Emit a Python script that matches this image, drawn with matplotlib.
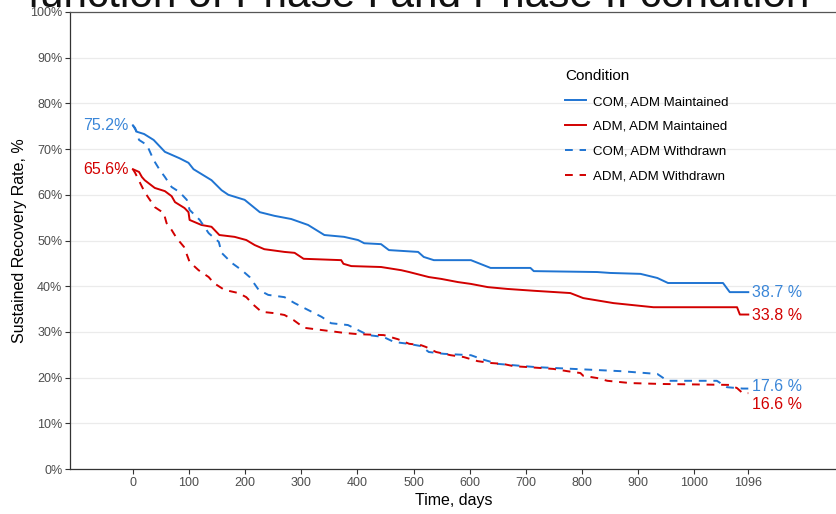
import matplotlib
matplotlib.use("Agg")
import matplotlib.pyplot as plt

plt.rcParams['font.family'] = ['Liberation Sans', 'DejaVu Sans']

BLUE = '#1f74d2'
RED = '#d20000'

# survival curves (day, %)
com_maint_days = [0, 7, 20, 37, 57, 83, 99, 108, 140, 158, 170, 199, 226, 252, 282, 312, 341,
                  376, 401, 412, 442, 456, 508, 518, 536, 602, 637, 708, 714, 827, 850, 904, 934,
                  953, 1051, 1063, 1096]
com_maint_pct = [75.2, 73.8, 73.3, 72.0, 69.4, 68.0, 67.0, 65.6, 63.2, 61.0, 60.0, 58.9, 56.2,
                 55.4, 54.7, 53.4, 51.2, 50.8, 50.1, 49.4, 49.2, 47.9, 47.5, 46.4, 45.7, 45.7,
                 44.0, 44.0, 43.3, 43.1, 42.9, 42.7, 41.8, 40.7, 40.7, 38.7, 38.7]

adm_maint_days = [0, 11, 16, 21, 39, 57, 69, 75, 92, 99, 101, 122, 140, 154, 181, 202, 217, 234,
                  270, 288, 304, 371, 375, 389, 442, 478, 492, 527, 549, 579, 602, 632, 667, 714,
                  779, 802, 856, 927, 1076, 1081, 1096]
adm_maint_pct = [65.6, 65.0, 63.9, 63.2, 61.5, 60.8, 59.7, 58.4, 57.1, 56.2, 54.5, 53.4, 53.0,
                 51.2, 50.8, 50.1, 49.0, 48.1, 47.5, 47.3, 46.0, 45.7, 44.9, 44.4, 44.2, 43.5,
                 43.1, 42.0, 41.6, 40.9, 40.5, 39.8, 39.4, 39.0, 38.5, 37.4, 36.3, 35.4, 35.4,
                 33.8, 33.8]

com_wd_days = [0, 4, 11, 25, 37, 48, 57, 69, 83, 96, 101, 119, 135, 153, 158, 176, 194, 208, 224,
               241, 270, 288, 312, 336, 353, 383, 401, 419, 446, 465, 490, 513, 527, 554, 602,
               625, 650, 717, 870, 934, 952, 1040, 1058, 1086, 1096]
com_wd_pct = [75.2, 74.6, 72.0, 70.9, 67.6, 65.4, 63.9, 61.7, 60.6, 58.9, 56.7, 54.5, 51.6, 49.7,
              47.3, 45.1, 43.5, 42.0, 39.2, 38.1, 37.6, 36.3, 34.8, 33.3, 31.9, 31.5, 30.4, 29.3,
              28.9, 27.8, 27.4, 26.9, 25.6, 25.2, 24.9, 23.9, 23.0, 22.3, 21.4, 20.8, 19.3, 19.3,
              17.9, 17.6, 17.6]

adm_wd_days = [0, 4, 12, 21, 28, 39, 55, 60, 69, 78, 91, 101, 117, 135, 144, 163, 188, 202, 215,
               229, 252, 270, 286, 305, 375, 401, 447, 472, 492, 513, 522, 540, 566, 589, 614,
               637, 659, 678, 703, 726, 749, 774, 797, 802, 827, 845, 886, 944, 1063, 1076, 1086,
               1096]
adm_wd_pct = [65.6, 64.8, 62.8, 60.6, 59.3, 57.3, 56.0, 53.8, 52.3, 50.5, 48.6, 45.3, 43.5, 42.0,
              40.7, 39.2, 38.5, 37.6, 35.9, 34.4, 34.1, 33.7, 32.6, 30.9, 29.8, 29.5, 29.3, 28.4,
              27.4, 27.1, 26.7, 25.6, 24.9, 24.5, 23.6, 23.2, 23.0, 22.5, 22.3, 22.1, 21.9, 21.4,
              21.0, 20.4, 19.9, 19.3, 18.8, 18.6, 18.4, 17.7, 16.6, 16.6]

x_ticks = [0, 100, 200, 300, 400, 500, 600, 700, 800, 900, 1000, 1096]
y_ticks = list(range(0, 101, 10))

fig = plt.figure(figsize=(8.37, 5.14), dpi=100)
ax = fig.add_axes([70 / 837, 45 / 514, 767 / 837, 457 / 514])

for y in y_ticks:
    ax.axhline(y, color='#ebebeb', lw=0.9, zorder=0)

ax.plot(com_maint_days, com_maint_pct, color=BLUE, lw=1.4, label='COM, ADM Maintained')
ax.plot(adm_maint_days, adm_maint_pct, color=RED, lw=1.4, label='ADM, ADM Maintained')
ax.plot(com_wd_days, com_wd_pct, color=BLUE, lw=1.4, dashes=(4, 3.5),
        label='COM, ADM Withdrawn')
ax.plot(adm_wd_days, adm_wd_pct, color=RED, lw=1.4, dashes=(4, 3.5),
        label='ADM, ADM Withdrawn')

# start / end value labels
ax.text(-7, com_maint_pct[0], '75.2%', color='#3a86d8', fontsize=11.5, ha='right', va='center')
ax.text(-7, adm_maint_pct[0], '65.6%', color=RED, fontsize=11.5, ha='right', va='center')
ax.text(1103, com_maint_pct[-1], '38.7 %', color='#3a86d8', fontsize=11.5, ha='left', va='center')
ax.text(1103, adm_maint_pct[-1] - 0.3, '33.8 %', color=RED, fontsize=11.5, ha='left', va='center')
ax.text(1103, com_wd_pct[-1] + 0.4, '17.6 %', color='#3a86d8', fontsize=11.5, ha='left', va='center')
ax.text(1103, adm_wd_pct[-1] - 2.4, '16.6 %', color=RED, fontsize=11.5, ha='left', va='center')

ax.set_xlim(-112, 1254)
ax.set_ylim(0, 100)
ax.set_xticks(x_ticks)
ax.set_yticks(y_ticks)
ax.set_yticklabels([f'{v}%' for v in y_ticks])
ax.tick_params(labelsize=9, labelcolor='#4d4d4d', color='#333333', length=3.5, width=0.8, pad=2)

ax.spines['right'].set_visible(False)
for side in ['left', 'bottom', 'top']:
    ax.spines[side].set_color('#333333')
    ax.spines[side].set_linewidth(0.9)
ax.spines['top'].set_color('#555555')

ax.set_xlabel('Time, days', fontsize=11.5, labelpad=3)
ax.set_ylabel('Sustained Recovery Rate, %', fontsize=11.5, labelpad=2)

leg = ax.legend(loc='upper left', bbox_to_anchor=(560 / 837, 1 - 64 / 514),
                bbox_transform=fig.transFigure, frameon=False, title='Condition',
                fontsize=9.5, title_fontsize=11, handlelength=1.6, handletextpad=0.5,
                labelspacing=0.95, borderaxespad=0)
leg._legend_box.align = 'left'

# slide title above the chart, cut off at the top edge as in the source
fig.text(0.5, 1 - 7 / 514, 'function of Phase I and Phase II condition', fontsize=30.5,
         ha='center', va='baseline', color='#111111')

fig.savefig('out.png', dpi=100)
